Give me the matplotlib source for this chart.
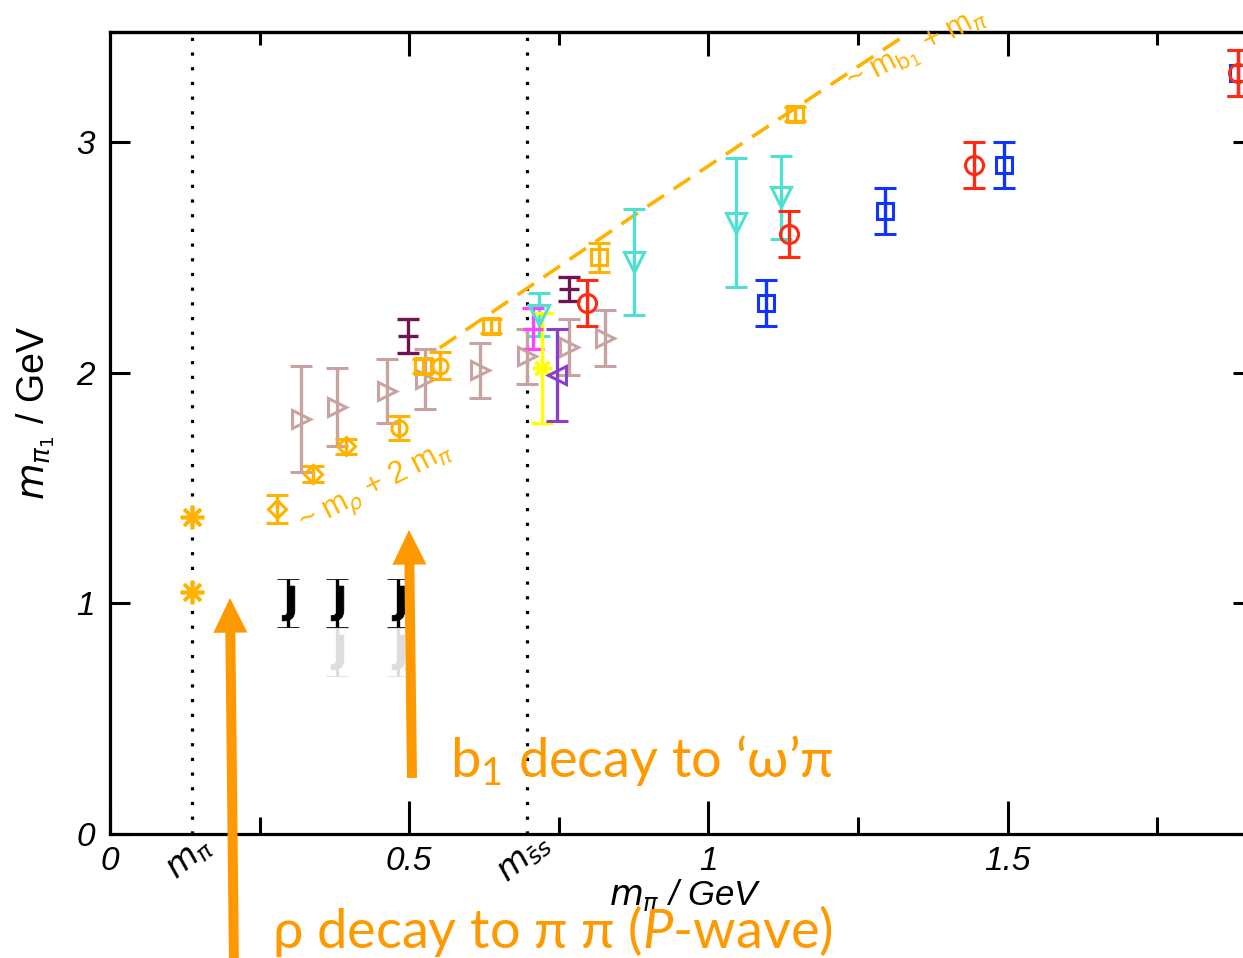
import matplotlib
matplotlib.use("Agg")
import matplotlib.pyplot as plt
from matplotlib.ticker import FixedLocator, NullFormatter

plt.rcParams['font.family'] = ['Liberation Sans', 'DejaVu Sans']
plt.rcParams['mathtext.fontset'] = 'dejavusans'
plt.rcParams['mathtext.rm'] = 'Lato'
plt.rcParams['mathtext.it'] = 'Lato:italic'
plt.rcParams['mathtext.bf'] = 'Lato:bold'

# ---------------- data (GeV) ----------------
m_pi_line = 0.137          # physical pion mass
m_ss_line = 0.697          # strange-strange pseudoscalar

star_x = [0.137, 0.137]
star_y = [1.376, 1.050]

j_x = [0.297, 0.379, 0.481]
j_y = [1.00, 1.00, 1.00]
j_err = [0.104, 0.104, 0.104]

jg_x = [0.379, 0.481]
jg_y = [0.79, 0.79]
jg_err = [0.104, 0.104]

orange_x = [0.279, 0.339, 0.394, 0.483, 0.523, 0.551, 0.637, 0.817, 1.145]
orange_y = [1.41, 1.56, 1.68, 1.76, 2.03, 2.03, 2.20, 2.50, 3.12]
orange_err = [0.06, 0.033, 0.033, 0.052, 0.03, 0.06, 0.03, 0.063, 0.03]
orange_mk = ['D', 'D', 'D', 'o', 's', 'o', 's', 's', 's']

maroon_x = [0.498, 0.767]
maroon_y = [2.16, 2.36]
maroon_err = [0.074, 0.052]

rosy_x = [0.319, 0.379, 0.463, 0.526, 0.618, 0.697, 0.767, 0.827]
rosy_y = [1.80, 1.85, 1.92, 1.97, 2.01, 2.07, 2.11, 2.15]
rosy_err = [0.23, 0.17, 0.14, 0.13, 0.12, 0.12, 0.12, 0.12]

cyan_x = [0.717, 0.876, 1.046, 1.121]
cyan_y = [2.25, 2.48, 2.65, 2.76]
cyan_err = [0.093, 0.23, 0.28, 0.18]

magenta_x = [0.707]
magenta_y = [2.19]
magenta_err = [0.09]

yellow_x = [0.722]
yellow_y = [2.02]
yellow_err = [0.24]

purple_x = [0.747]
purple_y = [1.99]
purple_err = [0.20]

blue_x = [1.096, 1.295, 1.494, 1.885]
blue_y = [2.30, 2.70, 2.90, 3.30]
blue_err = [0.10, 0.10, 0.10, 0.10]

red_x = [0.797, 1.134, 1.444, 1.885]
red_y = [2.30, 2.60, 2.90, 3.30]
red_err = [0.10, 0.10, 0.10, 0.10]

# two-body / three-body decay thresholds
thr_x = [0.551, 0.894, 1.345]
thr_y = [2.107, 2.713, 3.49]

# ---------------- figure ----------------
W, H = 1243, 958
fig = plt.figure(figsize=(W / 100, H / 100), dpi=100)
ax = fig.add_axes([110 / W, (958 - 834) / H, (1253 - 110) / W, (834 - 32) / H])
ax.set_xlim(0, 1.91)
ax.set_ylim(0, 3.476)

ORANGE = '#FFB300'
ARROW = '#FF9900'
LW = 2.4
CAP = 8


def series(x, y, e, color, marker, ms=12, mew=2.2, z=3, mfc='none'):
    ax.errorbar(x, y, yerr=e, linestyle='none', marker=marker, color=color,
                ecolor=color, elinewidth=LW, capsize=CAP, capthick=LW, ms=ms,
                mew=mew, mfc=mfc, mec=color, zorder=z)


# dotted reference lines
for xv in (m_pi_line, m_ss_line):
    ax.plot([xv, xv], [0, 3.476], color='black', lw=2.3,
            linestyle=(0, (1, 3.6)), zorder=1)

# threshold line
ax.plot(thr_x, thr_y, color=ORANGE, lw=2.6, linestyle=(0, (5.5, 3.2)), zorder=2)

series(rosy_x, rosy_y, rosy_err, '#C9A2A2', '>', ms=13)
series(maroon_x, maroon_y, maroon_err, '#6E1450', '_', ms=15, mew=LW)
series(cyan_x, cyan_y, cyan_err, '#4FE0D2', 'v', ms=14)
series(magenta_x, magenta_y, magenta_err, '#FF44FF', '_', ms=15, mew=LW)
series(yellow_x, yellow_y, yellow_err, '#FFFF00', (8, 2, 0), ms=14, mew=2.4)
series(purple_x, purple_y, purple_err, '#8A3FC8', '<', ms=13)
series(blue_x, blue_y, blue_err, '#1034FF', 's', ms=11)
series(red_x, red_y, red_err, '#FF2A10', 'o', ms=13, z=4)

for xi, yi, ei, mk in zip(orange_x, orange_y, orange_err, orange_mk):
    series([xi], [yi], [ei], ORANGE, mk, ms=9 if mk == 'D' else 11, z=5)

series(jg_x, jg_y, jg_err, '#DDDDDD', r'$\mathbf{J}$', ms=25, mew=0.6, mfc='#DDDDDD')
series(j_x, j_y, j_err, 'black', r'$\mathbf{J}$', ms=25, mew=0.6, z=6, mfc='black')

ax.plot(star_x, star_y, linestyle='none', marker=(8, 2, 0), ms=17,
        mew=2.6, color=ORANGE, zorder=6)

# ---------------- axes styling ----------------
for s in ax.spines.values():
    s.set_linewidth(2.3)

ax.xaxis.set_major_locator(FixedLocator([0, 0.5, 1.0, 1.5]))
ax.xaxis.set_minor_locator(FixedLocator([0.25, 0.75, 1.25, 1.75]))
ax.set_xticklabels(['0', '0.5', '1', '1.5'], fontsize=24, style='italic')
ax.yaxis.set_major_locator(FixedLocator([0, 1, 2, 3]))
ax.set_yticklabels(['0', '1', '2', '3'], fontsize=24, style='italic')

ax.tick_params(axis='x', which='major', direction='in', length=24, width=2.2,
               pad=9, top=False)
ax.tick_params(axis='x', which='minor', direction='in', length=12, width=2.2,
               top=False)
ax.tick_params(axis='y', which='major', direction='in', length=14.5, width=2.2,
               pad=11, right=True)

top = ax.secondary_xaxis('top')
top.xaxis.set_major_locator(FixedLocator([0.5, 1.0, 1.5]))
top.xaxis.set_minor_locator(FixedLocator([0.25, 0.75, 1.25, 1.75]))
top.xaxis.set_major_formatter(NullFormatter())
top.tick_params(which='major', direction='in', length=17, width=2.2)
top.tick_params(which='minor', direction='in', length=9, width=2.2)
top.spines['top'].set_linewidth(2.3)

# special mass labels on the x axis
ax.text(m_pi_line - 0.004, -0.03, r'$m_\pi$', transform=ax.get_xaxis_transform(),
        rotation=40, ha='center', va='center', fontsize=24)
ax.text(m_ss_line - 0.005, -0.03, r'$m_{\bar{s}s}$', transform=ax.get_xaxis_transform(),
        rotation=40, ha='center', va='center', fontsize=24)

ax.set_xlabel(r'$m_\pi$ / GeV', fontsize=25, style='italic')
ax.xaxis.set_label_coords(0.503, -0.055)
ax.set_ylabel(r'$m_{\pi_1}$ / GeV', fontsize=27)
ax.yaxis.set_label_coords(-0.046, 0.525)

# threshold annotations
ax.text(0.445, 1.50, r'~ m$_\rho$ + 2 m$_\pi$', color=ORANGE, fontsize=22,
        rotation=27, ha='center', va='center')
ax.text(1.35, 3.39, r'~ m$_{\mathrm{b}_1}$ + m$_\pi$', color=ORANGE, fontsize=22,
        rotation=27, ha='center', va='center', clip_on=False)

# decay-channel arrows and notes
arrow = dict(arrowstyle='simple,head_length=2.5,head_width=2.45,tail_width=0.72',
             mutation_scale=10, color=ARROW, shrinkA=0, shrinkB=0, lw=0)
ax.annotate('', xy=(0.2005, 1.023), xytext=(0.207, -0.54), arrowprops=arrow,
            annotation_clip=False, zorder=7)
ax.annotate('', xy=(0.4996, 1.318), xytext=(0.5046, 0.243), arrowprops=arrow,
            annotation_clip=False, zorder=7)

big = dict(color=ARROW, fontsize=39, family=['Lato', 'DejaVu Sans'],
           va='baseline', ha='left', clip_on=False, math_fontfamily='custom', zorder=8)
ax.text(0.568, 0.247, r'b$_1$ decay to ‘ω’π', **big)
ax.text(0.271, -0.494, r'ρ decay to π π ($\mathit{P}$-wave)', **big)

fig.savefig('out.png', dpi=100)
